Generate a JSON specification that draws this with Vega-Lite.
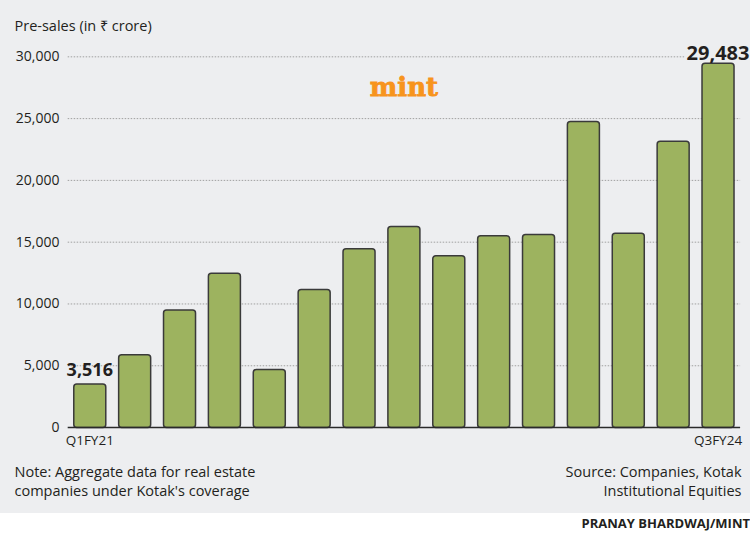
{
  "$schema": "https://vega.github.io/schema/vega-lite/v6.json",
  "width": 750,
  "height": 513,
  "autosize": {"type": "none"},
  "padding": {"left": 0, "top": 0, "right": 0, "bottom": 23},
  "background": "#ffffff",
  "view": {"fill": "#edeef0", "stroke": null},
  "config": {"font": "Open Sans"},
  "datasets": {
    "sales": [
      {"quarter": "Q1FY21", "value": 3516},
      {"quarter": "Q2FY21", "value": 5900},
      {"quarter": "Q3FY21", "value": 9520},
      {"quarter": "Q4FY21", "value": 12490},
      {"quarter": "Q1FY22", "value": 4700},
      {"quarter": "Q2FY22", "value": 11165},
      {"quarter": "Q3FY22", "value": 14465},
      {"quarter": "Q4FY22", "value": 16270},
      {"quarter": "Q1FY23", "value": 13900},
      {"quarter": "Q2FY23", "value": 15520},
      {"quarter": "Q3FY23", "value": 15625},
      {"quarter": "Q4FY23", "value": 24760},
      {"quarter": "Q1FY24", "value": 15730},
      {"quarter": "Q2FY24", "value": 23165},
      {"quarter": "Q3FY24", "value": 29483}
    ],
    "grid": [
      {"v": 0}, {"v": 5000}, {"v": 10000}, {"v": 15000}, {"v": 20000}, {"v": 25000}, {"v": 30000}
    ]
  },
  "title": {
    "text": "PRANAY BHARDWAJ/MINT",
    "orient": "bottom",
    "anchor": "end",
    "frame": "group",
    "offset": 5,
    "dx": 0,
    "fontSize": 13,
    "fontWeight": "bold",
    "font": "Open Sans",
    "color": "#231f20"
  },
  "layer": [
    {
      "data": {"name": "grid"},
      "transform": [{"filter": "datum.v > 0"}],
      "mark": {"type": "rule", "stroke": "#a0a0a0", "strokeWidth": 1, "strokeDash": [1.5, 1.5]},
      "encoding": {
        "x": {"datum": "Q1FY21", "type": "nominal", "bandPosition": -0.19, "axis": null},
        "x2": {"datum": "Q3FY24", "bandPosition": 1.19},
        "y": {
          "field": "v", "type": "quantitative",
          "scale": {"domain": [-6916, 34598], "nice": false, "zero": false},
          "axis": {
            "orient": "right", "labels": false, "ticks": false, "domain": false, "grid": false,
            "title": ["Source: Companies, Kotak", "Institutional Equities"],
            "titleAngle": 0, "titleX": -9, "titleY": 476, "titleAlign": "right",
            "titleBaseline": "alphabetic", "titleFontSize": 14.5, "titleFontWeight": "normal",
            "titleColor": "#231f20", "titleLineHeight": 19, "titleFont": "Open Sans"
          }
        }
      }
    },
    {
      "data": {"name": "sales"},
      "transform": [{"filter": "datum.quarter == 'Q3FY24'"}],
      "mark": {"type": "text", "font": "Open Sans", "fontSize": 20, "fontWeight": "bold", "baseline": "alphabetic", "dy": -3, "fill": "#edeef0", "stroke": "#edeef0", "strokeWidth": 6, "strokeJoin": "round"},
      "encoding": {
        "x": {"field": "quarter", "type": "nominal", "axis": null},
        "y": {"field": "value", "type": "quantitative", "scale": {"domain": [-6916, 34598], "nice": false, "zero": false}, "axis": null},
        "text": {"field": "value", "type": "quantitative", "format": ","}
      }
    },
    {
      "data": {"name": "sales"},
      "mark": {"type": "bar", "fill": "#9db35f", "stroke": "#3a3a3a", "strokeWidth": 1.5, "cornerRadius": 3},
      "encoding": {
        "x": {
          "field": "quarter", "type": "nominal",
          "scale": {
            "domain": ["Q1FY21","Q2FY21","Q3FY21","Q4FY21","Q1FY22","Q2FY22","Q3FY22","Q4FY22","Q1FY23","Q2FY23","Q3FY23","Q4FY23","Q1FY24","Q2FY24","Q3FY24"],
            "paddingInner": 0.2867, "paddingOuter": 1.003, "align": 0.822
          },
          "axis": {
            "orient": "bottom", "offset": -86, "domain": false, "ticks": false, "grid": false,
            "labelExpr": "datum.value == 'Q1FY21' || datum.value == 'Q3FY24' ? datum.value : ''",
            "labelAngle": 0, "labelFontSize": 13.5, "labelColor": "#231f20", "labelPadding": 6, "labelFont": "Open Sans",
            "labelOverlap": false,
            "title": ["Note: Aggregate data for real estate", "companies under Kotak's coverage"],
            "titleX": 14, "titleY": 49, "titleAlign": "left", "titleAnchor": "start",
            "titleBaseline": "alphabetic", "titleFontSize": 14.5, "titleFontWeight": "normal",
            "titleColor": "#231f20", "titleLineHeight": 19, "titleFont": "Open Sans"
          }
        },
        "y": {
          "field": "value", "type": "quantitative",
          "scale": {"domain": [-6916, 34598], "nice": false, "zero": false},
          "axis": {
            "values": [0, 5000, 10000, 15000, 20000, 25000, 30000],
            "format": ",.0f", "grid": false, "domain": false, "ticks": false,
            "labelPadding": -59, "labelAlign": "right", "labelBaseline": "middle",
            "labelFontSize": 14, "labelColor": "#231f20", "labelFont": "Open Sans",
            "title": "Pre-sales (in ₹ crore)",
            "titleAngle": 0, "titleX": 14, "titleY": 30, "titleAlign": "left",
            "titleBaseline": "alphabetic", "titleFontSize": 14.5, "titleFontWeight": "normal",
            "titleColor": "#231f20", "titleFont": "Open Sans"
          }
        },
        "y2": {"datum": 0}
      }
    },
    {
      "data": {"name": "grid"},
      "transform": [{"filter": "datum.v == 0"}],
      "mark": {"type": "rule", "stroke": "#2a2a2a", "strokeWidth": 1.5},
      "encoding": {
        "x": {"datum": "Q1FY21", "type": "nominal", "bandPosition": -0.19, "axis": null},
        "x2": {"datum": "Q3FY24", "bandPosition": 1.19},
        "y": {"field": "v", "type": "quantitative", "scale": {"domain": [-6916, 34598], "nice": false, "zero": false}, "axis": null}
      }
    },
    {
      "data": {"name": "sales"},
      "transform": [{"filter": "datum.quarter == 'Q3FY24'"}],
      "mark": {"type": "text", "font": "Open Sans", "fontSize": 20, "fontWeight": "bold", "baseline": "alphabetic", "dy": -3, "fill": "#231f20"},
      "encoding": {
        "x": {"field": "quarter", "type": "nominal", "axis": null},
        "y": {"field": "value", "type": "quantitative", "scale": {"domain": [-6916, 34598], "nice": false, "zero": false}, "axis": null},
        "text": {"field": "value", "type": "quantitative", "format": ","}
      }
    },
    {
      "data": {"name": "sales"},
      "transform": [{"filter": "datum.quarter == 'Q1FY21'"}],
      "mark": {"type": "text", "font": "Open Sans", "fontSize": 18, "fontWeight": "bold", "baseline": "alphabetic", "dy": -8, "fill": "#231f20"},
      "encoding": {
        "x": {"field": "quarter", "type": "nominal", "axis": null},
        "y": {"field": "value", "type": "quantitative", "scale": {"domain": [-6916, 34598], "nice": false, "zero": false}, "axis": null},
        "text": {"field": "value", "type": "quantitative", "format": ","}
      }
    },
    {
      "data": {"values": [{"logo": "mint"}]},
      "mark": {"type": "text", "font": "DejaVu Serif", "fontSize": 26, "fontWeight": "bold", "baseline": "alphabetic", "fill": "#f7941d", "stroke": "#f7941d", "strokeWidth": 0.8},
      "encoding": {
        "x": {"datum": "Q4FY22", "type": "nominal", "bandPosition": 0.5, "axis": null},
        "y": {"datum": 26800, "type": "quantitative", "scale": {"domain": [-6916, 34598], "nice": false, "zero": false}, "axis": null},
        "text": {"field": "logo", "type": "nominal"}
      }
    }
  ],
  "resolve": {"axis": {"x": "independent", "y": "independent"}}
}
